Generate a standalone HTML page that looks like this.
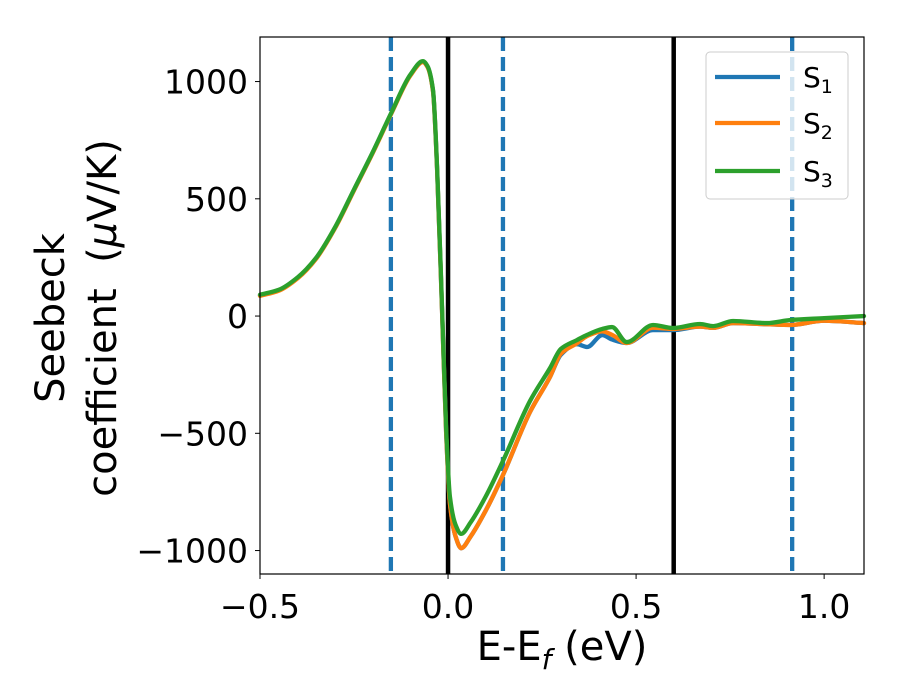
<!DOCTYPE html>
<html><head><meta charset="utf-8"><style>
body{margin:0;background:#fff}
svg{display:block;font-family:"DejaVu Sans","Liberation Sans",sans-serif}
</style></head><body>
<svg id="chart" width="900" height="700" viewBox="0 0 900 700" xmlns="http://www.w3.org/2000/svg">
<rect width="900" height="700" fill="#fff"/>
<g id="vlines"></g>
<g id="series"></g>
<rect x="260" y="37" width="604" height="537" fill="none" stroke="#000" stroke-width="1.2"/>
<g id="ticks"></g>
<text x="562" y="660" font-size="40" text-anchor="middle">E-E<tspan font-size="28" font-style="italic" dy="9">f</tspan><tspan dy="-9"> (eV)</tspan></text>
<g transform="translate(0,318) rotate(-90)" font-size="40" text-anchor="middle">
<text x="0" y="64">Seebeck</text>
<text x="0" y="116">coefficient &#160;(<tspan font-style="italic">μ</tspan>V/K)</text>
</g>
<g>
<rect x="706" y="52" width="142" height="147" rx="4" fill="#fff" fill-opacity="0.8" stroke="#ccc" stroke-width="1"/>
<g id="legend-items"></g>
</g>
</svg>
<script>
const xs = [-0.5,-0.45,-0.4,-0.35,-0.3,-0.25,-0.2,-0.15,-0.1,-0.067,-0.055,-0.04,-0.029,-0.016,-0.005,0.005,0.02,0.035,0.06,0.1,0.146,0.218,0.271,0.3,0.343,0.37,0.41,0.436,0.475,0.545,0.598,0.67,0.705,0.758,0.848,0.91,1.0,1.106];
const s1 = [88,110,163,248,378,538,698,868,1028,1085,1065,960,622,26,-499,-800,-940,-990,-940,-830,-678,-409,-260,-165,-120,-132,-81,-100,-115,-60,-60,-45,-50,-30,-35,-38,-20,-30];
const s2 = [86,108,161,246,376,536,696,866,1026,1083,1063,958,620,24,-501,-800,-940,-990,-940,-830,-678,-409,-260,-160,-116,-85,-65,-80,-115,-50,-55,-45,-50,-30,-35,-38,-20,-30];
const s3 = [91,112,165,250,380,540,700,870,1030,1087,1067,965,630,40,-480,-770,-890,-929,-880,-770,-618,-362,-222,-140,-102,-80,-55,-47,-111,-38,-51,-34,-43,-21,-30,-17,-9,0];
const seriesNames = ["S1","S2","S3"];
const seriesColors = ["#1f77b4","#ff7f0e","#2ca02c"];
const dashedX = [-0.152,0.146,0.915];
const solidX = [0.0,0.6];
const xTicks = [-0.5,0.0,0.5,1.0];
const xTickLabels = ["\u22120.5","0.0","0.5","1.0"];
const yTicks = [1000,500,0,-500,-1000];
const yTickLabels = ["1000","500","0","\u2212500","\u22121000"];

const X0=260,X1=864,Y0=37,Y1=574, xmin=-0.5,xmax=1.106,ymin=-1100,ymax=1190;
const sx=v=>X0+(v-xmin)/(xmax-xmin)*(X1-X0);
const sy=v=>Y1-(v-ymin)/(ymax-ymin)*(Y1-Y0);
const NS="http://www.w3.org/2000/svg";
function mk(tag,attrs,parent){const e=document.createElementNS(NS,tag);for(const k in attrs)e.setAttribute(k,attrs[k]);parent.appendChild(e);return e;}

const vl=document.getElementById('vlines');
dashedX.forEach(v=>{const l=mk('line',{x1:sx(v),x2:sx(v),y1:Y0,y2:Y1,stroke:'#1f77b4','stroke-width':4.3,'stroke-dasharray':'14,6'},vl);

});
solidX.forEach(v=>{const l=mk('line',{x1:sx(v),x2:sx(v),y1:Y0,y2:Y1,stroke:'#000','stroke-width':4.5},vl);

});

function monotone(pts){const n=pts.length,d=[],m=[];
for(let i=0;i<n-1;i++)d.push((pts[i+1][1]-pts[i][1])/(pts[i+1][0]-pts[i][0]));
m[0]=d[0];m[n-1]=d[n-2];
for(let i=1;i<n-1;i++){if(d[i-1]*d[i]<=0)m[i]=0;else{const h0=pts[i][0]-pts[i-1][0],h1=pts[i+1][0]-pts[i][0];const w1=2*h1+h0,w2=h1+2*h0;m[i]=(w1+w2)/(w1/d[i-1]+w2/d[i]);}}
let s=`M${pts[0][0]},${pts[0][1]}`;
for(let i=0;i<n-1;i++){const h=(pts[i+1][0]-pts[i][0])/3;
s+=`C${pts[i][0]+h},${pts[i][1]+m[i]*h} ${pts[i+1][0]-h},${pts[i+1][1]-m[i+1]*h} ${pts[i+1][0]},${pts[i+1][1]}`;}return s;}
const sg=document.getElementById('series');
[s1,s2,s3].forEach((s,i)=>{const p=mk('path',{d:monotone(xs.map((x,j)=>[sx(x),sy(s[j])])),fill:'none',stroke:seriesColors[i],'stroke-width':4.3,'stroke-linejoin':'round','stroke-linecap':'round'},sg);

});

const tg=document.getElementById('ticks');
xTicks.forEach((v,i)=>{mk('line',{x1:sx(v),x2:sx(v),y1:Y1,y2:Y1+5,stroke:'#000','stroke-width':1},tg);
const t=mk('text',{x:sx(v),y:618,'font-size':33,'text-anchor':'middle'},tg);t.textContent=xTickLabels[i];

});
yTicks.forEach((v,i)=>{mk('line',{x1:X0-5,x2:X0,y1:sy(v),y2:sy(v),stroke:'#000','stroke-width':1},tg);
const t=mk('text',{x:248,y:sy(v)+12,'font-size':33,'text-anchor':'end'},tg);t.textContent=yTickLabels[i];

});

const lg=document.getElementById('legend-items');
[77,123,171].forEach((y,i)=>{const g=mk('g',{},lg);


mk('line',{x1:715,x2:780,y1:y,y2:y,stroke:seriesColors[i],'stroke-width':4.3},g);
const t=mk('text',{x:803,y:y+10,'font-size':28},g);
t.innerHTML='S<tspan font-size="19" dy="6">'+(i+1)+'</tspan>';});
</script>
</body></html>
